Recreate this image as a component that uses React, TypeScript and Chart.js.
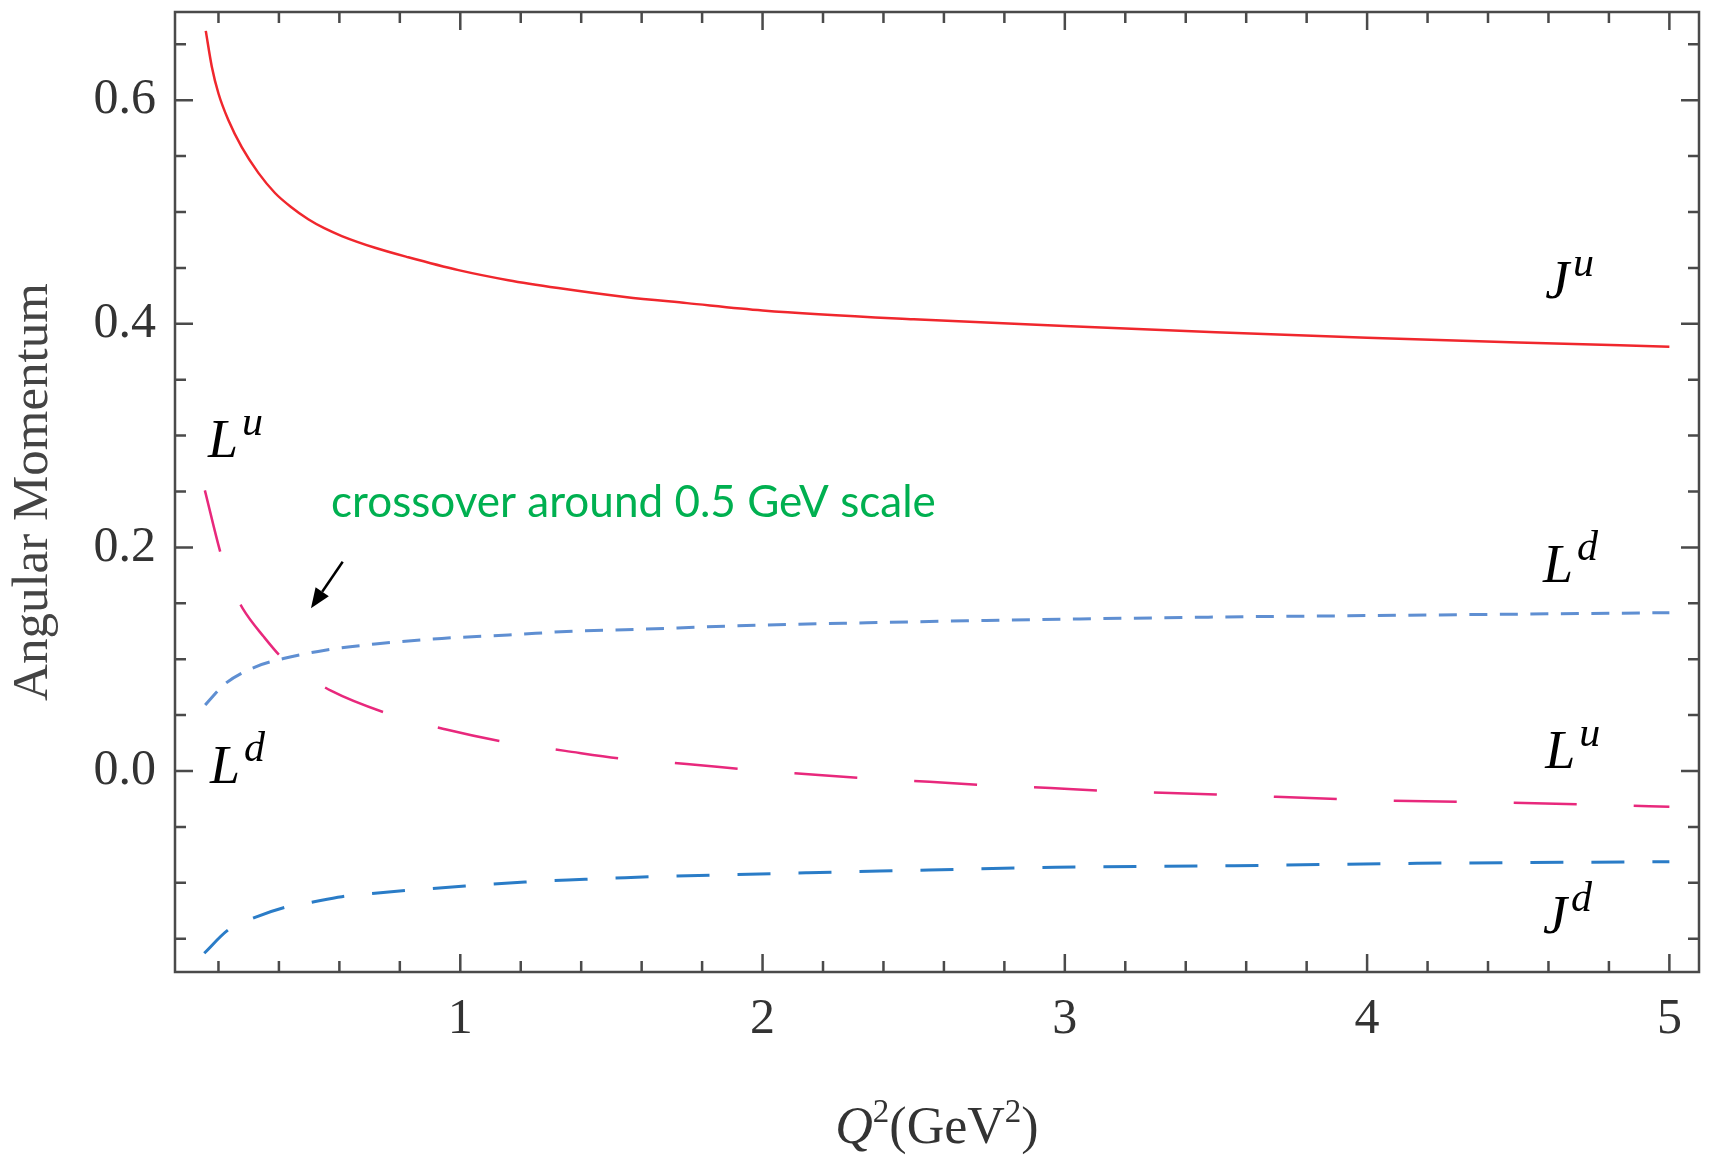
import React, { useEffect, useRef } from "react";
import { Chart, registerables } from "chart.js";

Chart.register(...registerables);

// ---------- data ----------
const juQ2 = [0.158, 0.178, 0.2, 0.233, 0.277, 0.332, 0.387, 0.44, 0.497, 0.55, 0.608, 0.718, 0.828, 0.994, 1.159, 1.324, 1.545, 1.75, 2.0, 2.5, 3.0, 3.5, 4.0, 4.5, 5.0];
const juVal = [0.662, 0.630, 0.606, 0.582, 0.558, 0.535, 0.517, 0.5045, 0.4935, 0.4855, 0.4785, 0.468, 0.4595, 0.448, 0.439, 0.432, 0.424, 0.4185, 0.412, 0.404, 0.398, 0.3925, 0.3875, 0.3833, 0.3795];

const luQ2 = [0.155, 0.208, 0.24, 0.28, 0.35, 0.415, 0.5, 0.572, 0.764, 0.95, 1.157, 1.347, 1.545, 1.749, 1.959, 2.152, 2.361, 2.552, 2.764, 2.953, 3.116, 3.5, 4.0, 4.4, 4.8, 5.0];
const luVal = [0.251, 0.194, 0.167, 0.1455, 0.120, 0.100, 0.084, 0.0718, 0.051, 0.0373, 0.0255, 0.018, 0.0107, 0.0063, 0.0009, -0.003, -0.0069, -0.0096, -0.0131, -0.0152, -0.0176, -0.021, -0.026, -0.028, -0.0304, -0.032];

const ldQ2 = [0.156, 0.222, 0.321, 0.415, 0.553, 0.718, 0.939, 1.159, 1.38, 1.545, 2.01, 2.345, 2.675, 3.05, 3.5, 4.0, 4.5, 5.0];
const ldVal = [0.059, 0.078, 0.093, 0.1006, 0.108, 0.1136, 0.1186, 0.1216, 0.1252, 0.1264, 0.1306, 0.1326, 0.1344, 0.136, 0.1377, 0.139, 0.1403, 0.1416];

const jdQ2 = [0.153, 0.233, 0.321, 0.42, 0.508, 0.608, 0.718, 0.817, 1.016, 1.214, 1.413, 1.545, 2.15, 2.55, 2.97, 3.56, 4.17, 5.0];
const jdVal = [-0.163, -0.142, -0.131, -0.122, -0.1174, -0.1124, -0.1094, -0.107, -0.1029, -0.0993, -0.0969, -0.0954, -0.091, -0.0886, -0.0861, -0.0847, -0.0826, -0.0811];

// ---------- axes ----------
const xMin = 0.0562;
const xMax = 5.098;
const yMin = -0.1798;
const yMax = 0.6789;
const xTickValues = [1, 2, 3, 4, 5];
const xTickLabels = ["1", "2", "3", "4", "5"];
const xMinorValues = [0.2, 0.4, 0.6, 0.8, 1.2, 1.4, 1.6, 1.8, 2.2, 2.4, 2.6, 2.8, 3.2, 3.4, 3.6, 3.8, 4.2, 4.4, 4.6, 4.8];
const yTickValues = [0, 0.2, 0.4, 0.6];
const yTickLabels = ["0.0", "0.2", "0.4", "0.6"];
const yMinorValues = [-0.15, -0.1, -0.05, 0.05, 0.1, 0.15, 0.25, 0.3, 0.35, 0.45, 0.5, 0.55, 0.65];
const yAxisTitle = "Angular Momentum";

// ---------- annotations (data coordinates) ----------
const mathLabels = [
  { main: "J", sup: "u", x: 4.589, y: 0.4231 },
  { main: "L", sup: "u", x: 4.589, y: 0.0027 },
  { main: "L", sup: "d", x: 4.582, y: 0.1691 },
  { main: "J", sup: "d", x: 4.582, y: -0.1449 },
  { main: "L", sup: "u", x: 0.1654, y: 0.2809 },
  { main: "L", sup: "d", x: 0.172, y: -0.0107 },
];
const noteText = "crossover around 0.5 GeV scale";
const noteAnchor = { x: 0.5724, y: 0.2275 };
const noteWidthPx = 605;
const arrowFrom = { x: 0.611, y: 0.1872 };
const arrowTo = { x: 0.506, y: 0.1455 };

const pts = (xs: number[], ys: number[]) => xs.map((x, i) => ({ x, y: ys[i] }));

const overlayPlugin = {
  id: "overlay",
  afterDatasetsDraw(chart: any) {
    const { ctx, chartArea: ca, scales } = chart;
    const xs = scales.x;
    const ys = scales.y;
    ctx.save();

    // frame
    ctx.strokeStyle = "#4a4a4a";
    ctx.lineWidth = 2.5;
    ctx.strokeRect(ca.left, ca.top, ca.right - ca.left, ca.bottom - ca.top);

    const major = 18;
    const minor = 11;
    ctx.beginPath();
    const xTick = (v: number, len: number) => {
      const p = xs.getPixelForValue(v);
      ctx.moveTo(p, ca.bottom);
      ctx.lineTo(p, ca.bottom - len);
      ctx.moveTo(p, ca.top);
      ctx.lineTo(p, ca.top + len);
    };
    const yTick = (v: number, len: number) => {
      const p = ys.getPixelForValue(v);
      ctx.moveTo(ca.left, p);
      ctx.lineTo(ca.left + len, p);
      ctx.moveTo(ca.right, p);
      ctx.lineTo(ca.right - len, p);
    };
    xTickValues.forEach((v) => xTick(v, major));
    xMinorValues.forEach((v) => xTick(v, minor));
    yTickValues.forEach((v) => yTick(v, major));
    yMinorValues.forEach((v) => yTick(v, minor));
    ctx.stroke();

    // x-axis title  Q^2(GeV^2)
    const bigFont = '52px "Liberation Serif"';
    const bigItalic = 'italic 52px "Liberation Serif"';
    const supFont = '33px "Liberation Serif"';
    const parts = [
      { t: "Q", f: bigItalic, dy: 0 },
      { t: "2", f: supFont, dy: -21 },
      { t: "(GeV", f: bigFont, dy: 0 },
      { t: "2", f: supFont, dy: -21 },
      { t: ")", f: bigFont, dy: 0 },
    ];
    let total = 0;
    parts.forEach((p) => {
      ctx.font = p.f;
      total += ctx.measureText(p.t).width;
    });
    let cx = (ca.left + ca.right) / 2 - total / 2;
    const base = 1143;
    ctx.fillStyle = "#333";
    ctx.textBaseline = "alphabetic";
    ctx.textAlign = "left";
    parts.forEach((p) => {
      ctx.font = p.f;
      ctx.fillText(p.t, cx, base + p.dy);
      cx += ctx.measureText(p.t).width;
    });

    // math labels
    ctx.fillStyle = "#000";
    mathLabels.forEach((m) => {
      const px = xs.getPixelForValue(m.x);
      const py = ys.getPixelForValue(m.y);
      ctx.font = 'italic 54px "Liberation Serif"';
      ctx.fillText(m.main, px, py);
      const w = ctx.measureText(m.main).width;
      ctx.font = 'italic 42px "Liberation Serif"';
      ctx.fillText(m.sup, px + w + 4, py - 22);
    });

    // green note
    ctx.font = '100px Lato';
    const w100 = ctx.measureText(noteText).width;
    const size = (100 * noteWidthPx) / w100;
    ctx.font = `${size}px Lato`;
    ctx.fillStyle = "#00b050";
    ctx.fillText(noteText, xs.getPixelForValue(noteAnchor.x), ys.getPixelForValue(noteAnchor.y));

    // arrow
    const ax0 = xs.getPixelForValue(arrowFrom.x);
    const ay0 = ys.getPixelForValue(arrowFrom.y);
    const ax1 = xs.getPixelForValue(arrowTo.x);
    const ay1 = ys.getPixelForValue(arrowTo.y);
    const ang = Math.atan2(ay1 - ay0, ax1 - ax0);
    const headLen = 20;
    const headW = 8;
    const bx = ax1 - headLen * Math.cos(ang);
    const by = ay1 - headLen * Math.sin(ang);
    ctx.strokeStyle = "#000";
    ctx.lineWidth = 2.5;
    ctx.beginPath();
    ctx.moveTo(ax0, ay0);
    ctx.lineTo(bx, by);
    ctx.stroke();
    ctx.fillStyle = "#000";
    ctx.beginPath();
    ctx.moveTo(ax1, ay1);
    ctx.lineTo(bx + headW * Math.sin(ang), by - headW * Math.cos(ang));
    ctx.lineTo(bx - headW * Math.sin(ang), by + headW * Math.cos(ang));
    ctx.closePath();
    ctx.fill();

    ctx.restore();
  },
};

export default function App() {
  const ref = useRef<HTMLCanvasElement>(null);

  useEffect(() => {
    const canvas = ref.current;
    if (!canvas) return;
    const chart = new Chart(canvas, {
      type: "line",
      data: {
        datasets: [
          {
            label: "Ju",
            data: pts(juQ2, juVal),
            borderColor: "#f0272d",
            borderWidth: 2.5,
            pointRadius: 0,
            cubicInterpolationMode: "monotone",
          },
          {
            label: "Lu",
            data: pts(luQ2, luVal),
            borderColor: "#e8287c",
            borderWidth: 2.5,
            borderDash: [63, 57],
            pointRadius: 0,
            cubicInterpolationMode: "monotone",
          },
          {
            label: "Ld",
            data: pts(ldQ2, ldVal),
            borderColor: "#5f8fd2",
            borderWidth: 3,
            borderDash: [18, 12.5],
            pointRadius: 0,
            cubicInterpolationMode: "monotone",
          },
          {
            label: "Jd",
            data: pts(jdQ2, jdVal),
            borderColor: "#2a7cc7",
            borderWidth: 3,
            borderDash: [33, 28],
            pointRadius: 0,
            cubicInterpolationMode: "monotone",
          },
        ],
      },
      options: {
        animation: false,
        responsive: false,
        devicePixelRatio: 1,
        layout: { padding: { left: 0, top: 12, right: 12, bottom: 0 } },
        plugins: { legend: { display: false }, tooltip: { enabled: false } },
        scales: {
          x: {
            type: "linear",
            min: xMin,
            max: xMax,
            grid: { display: false, drawTicks: false },
            border: { display: false },
            afterFit: (s: any) => {
              s.height = 186;
              s.paddingLeft = 0;
              s.paddingRight = 0;
            },
            afterBuildTicks: (s: any) => {
              s.ticks = xTickValues.map((v) => ({ value: v }));
            },
            ticks: {
              padding: 18,
              color: "#333",
              font: { family: '"Liberation Serif"', size: 50 },
              maxRotation: 0,
              callback: (_v: any, i: number) => xTickLabels[i],
            },
          },
          y: {
            type: "linear",
            min: yMin,
            max: yMax,
            grid: { display: false, drawTicks: false },
            border: { display: false },
            afterFit: (s: any) => {
              s.width = 175;
              s.paddingTop = 0;
              s.paddingBottom = 0;
            },
            afterBuildTicks: (s: any) => {
              s.ticks = yTickValues.map((v) => ({ value: v }));
            },
            ticks: {
              padding: 19,
              color: "#333",
              font: { family: '"Liberation Serif"', size: 50 },
              callback: (_v: any, i: number) => yTickLabels[i],
            },
            title: {
              display: true,
              text: yAxisTitle,
              color: "#444",
              font: { family: '"Liberation Serif"', size: 51 },
              padding: { top: 3, bottom: 0 },
            },
          },
        },
      },
      plugins: [overlayPlugin],
    });
    return () => chart.destroy();
  }, []);

  return (
    <div style={{ position: "fixed", left: 0, top: 0, width: 1711, height: 1158, background: "#fff" }}>
      <canvas ref={ref} width={1711} height={1158} style={{ display: "block", width: 1711, height: 1158 }} />
    </div>
  );
}
